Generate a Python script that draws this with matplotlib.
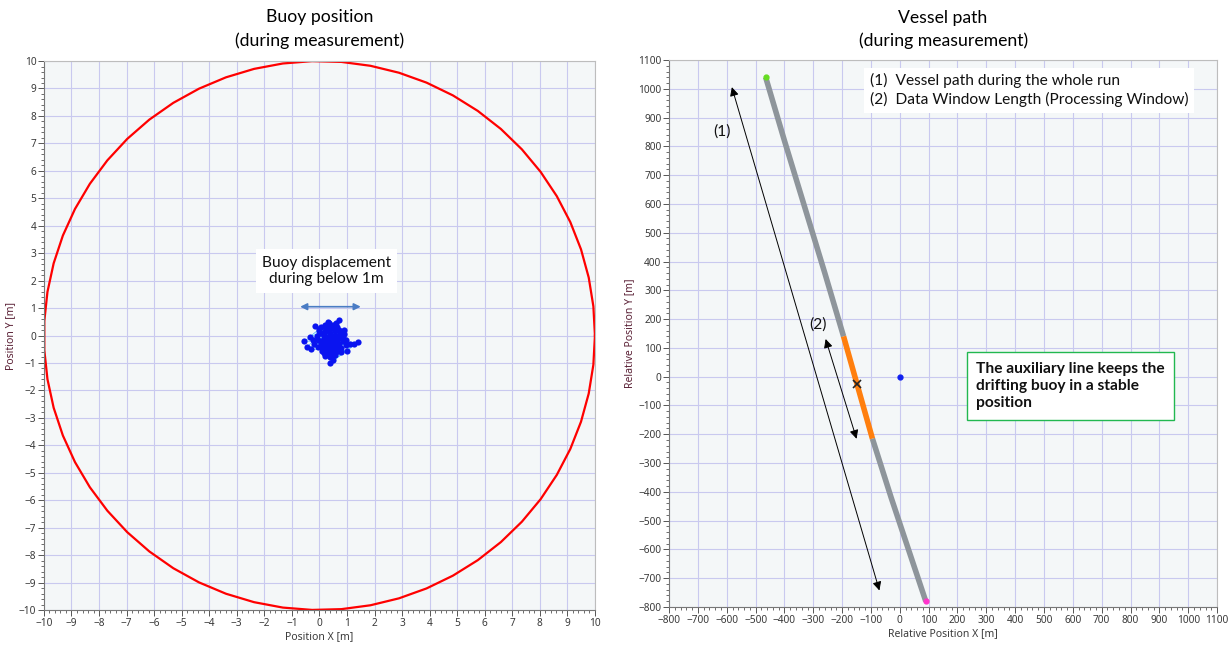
import numpy as np
import matplotlib
matplotlib.use('Agg')
import matplotlib.pyplot as plt
from matplotlib.ticker import MultipleLocator

# --- data ---
# buoy position cloud (m)
buoy_x = [0.30, 0.42, 0.18, 0.55, 0.25, 0.38, 0.10, 0.47, 0.62, 0.33,
          0.05, 0.28, 0.50, 0.15, 0.70, 0.40, 0.22, 0.58, 0.35, 0.12,
          0.45, 0.65, 0.27, 0.08, 0.52, 0.37, 0.20, 0.60, 0.43, 0.31,
          -0.05, 0.75, 0.48, 0.17, 0.55, 0.02, 0.68, 0.24, 0.39, 0.85,
          -0.20, 0.95, 0.30, -0.35, 1.10, 0.60, -0.45, 1.25, 0.50, 0.00,
          0.80, -0.15, 0.90, 0.40, 1.40, -0.55, 0.70, 0.20, 1.00, -0.30,
          0.35, 0.45, 0.25, 0.55, 0.15, 0.65, 0.32, 0.42, 0.28, 0.50,
          -0.10, 0.05, 0.72, 0.85, 0.60, -0.05, 0.10, 0.78, 0.20, 0.48,
          0.00, 0.88, 0.35, 0.62, 0.15, 0.70, -0.25, 0.95, 0.40, 0.25]
buoy_y = [-0.10, -0.25, 0.05, -0.15, -0.35, 0.10, -0.20, -0.45, 0.00, -0.05,
          -0.30, 0.20, -0.55, -0.10, -0.30, 0.25, -0.50, 0.15, -0.65, 0.05,
          0.30, -0.20, -0.25, -0.45, 0.00, -0.35, 0.15, -0.50, -0.15, 0.35,
          -0.15, 0.05, 0.40, -0.60, -0.70, 0.10, -0.40, 0.30, -0.80, -0.20,
          -0.30, -0.35, 0.50, -0.05, -0.30, 0.45, -0.40, -0.30, -0.90, 0.25,
          -0.60, 0.35, 0.20, -1.00, -0.25, -0.20, 0.55, -0.75, -0.55, -0.50,
          -0.20, -0.10, -0.05, -0.30, -0.25, -0.10, -0.40, 0.00, -0.15, -0.20,
          0.00, 0.30, 0.20, -0.05, -0.60, -0.40, -0.55, -0.45, 0.40, -0.70,
          0.15, 0.05, 0.45, 0.30, -0.65, -0.10, -0.15, -0.15, -0.60, -0.60]
radius = 10  # watch circle

# vessel path (m)
path_x = [-465, -400, -330, -260, -195]
path_y = [1040, 820, 590, 360, 140]
window_x = [-195, -150, -95]
window_y = [140, -20, -215]
path2_x = [-95, -30, 30, 90]
path2_y = [-215, -420, -600, -780]
target = (-148, -25)

GRID = '#c9c9ef'
BG = '#f4f7f8'
TXT = '#3a3a3a'
plt.rcParams['font.family'] = ['Noto Sans', 'DejaVu Sans']

fig = plt.figure(figsize=(12.31, 6.46), dpi=100)
ax1 = fig.add_axes([0.0357, 0.0557, 0.4476, 0.8498])
ax2 = fig.add_axes([0.5435, 0.0604, 0.4452, 0.8467])


def style(ax, major, xlabel, ylabel):
    ax.set_facecolor(BG)
    ax.xaxis.set_major_locator(MultipleLocator(major))
    ax.yaxis.set_major_locator(MultipleLocator(major))
    ax.xaxis.set_minor_locator(MultipleLocator(major / 5))
    ax.yaxis.set_minor_locator(MultipleLocator(major / 5))
    ax.grid(True, which='major', color=GRID, lw=0.8)
    ax.set_axisbelow(True)
    ax.tick_params(which='major', length=4, width=0.7, labelsize=7.3, colors='#555555', labelcolor=TXT, pad=1.5)
    ax.tick_params(which='minor', length=2, width=0.6, colors='#555555')
    for s in ax.spines.values():
        s.set_color('#bdbdbd')
    ax.spines['left'].set_color('#777777')
    ax.spines['bottom'].set_color('#777777')
    ax.set_xlabel(xlabel, fontsize=7.5, color=TXT, labelpad=2)
    ax.set_ylabel(ylabel, fontsize=7.5, color='#5a2035', labelpad=2)


# --- left: buoy position ---
style(ax1, 1, 'Position X [m]', 'Position Y [m]')
ax1.set_xlim(-10, 10)
ax1.set_ylim(-10, 10)
t = np.linspace(0, 2 * np.pi, 60)
ax1.plot(radius * np.cos(t), radius * np.sin(t), color='#ff0000', lw=1.6)
ax1.plot(buoy_x, buoy_y, color='#40b8ff', lw=0.5, zorder=3)
ax1.scatter(buoy_x, buoy_y, s=20, color='#0a14f0', zorder=4, linewidths=0)
ax1.annotate('', xy=(-0.8, 1.05), xytext=(1.6, 1.05),
             arrowprops=dict(arrowstyle='<|-|>', color='#4a7cc4', lw=1.2, mutation_scale=10))
ax1.text(0.25, 2.35, 'Buoy displacement\nduring below 1m', ha='center', va='center',
         fontsize=11.2, family='Lato', color='#111111', linespacing=1.25,
         bbox=dict(boxstyle='square,pad=0.4', fc='white', ec='none'))
ax1.set_title('Buoy position\n(during measurement)', fontsize=12.7, family='Lato', pad=11, linespacing=1.5)

# --- right: vessel path ---
style(ax2, 100, 'Relative Position X [m]', 'Relative Position Y [m]')
ax2.set_xlim(-800, 1100)
ax2.set_ylim(-800, 1100)
ax2.plot(path_x, path_y, color='#8e959b', lw=4, solid_capstyle='butt', zorder=3)
ax2.plot(path2_x, path2_y, color='#8e959b', lw=4, solid_capstyle='butt', zorder=3)
ax2.plot(window_x, window_y, color='#ff7f0e', lw=4, solid_capstyle='butt', zorder=4)
ax2.plot(path_x[0], path_y[0], 'o', color='#66dd22', ms=3.5, zorder=5)
ax2.plot(path2_x[-1], path2_y[-1], 'o', color='#ff33cc', ms=3.5, zorder=5)
ax2.plot(0, 0, 'o', color='#1020f0', ms=3.5, zorder=5)
ax2.plot(*target, 'x', color='#222222', ms=6, mew=1.2, zorder=6)
ax2.annotate('', xy=(-585, 1015), xytext=(-68, -752),
             arrowprops=dict(arrowstyle='<|-|>', color='black', lw=0.7, mutation_scale=13))
ax2.annotate('', xy=(-260, 140), xytext=(-147, -225),
             arrowprops=dict(arrowstyle='<|-|>', color='black', lw=0.7, mutation_scale=13))
ax2.text(-615, 850, '(1)', ha='center', va='center', fontsize=11.2, family='Lato', color='#111111')
ax2.text(-282, 180, '(2)', ha='center', va='center', fontsize=11.2, family='Lato', color='#111111')
ax2.text(-105, 995, '(1)  Vessel path during the whole run\n(2)  Data Window Length (Processing Window)',
         ha='left', va='center', fontsize=11.2, family='Lato', color='#111111', linespacing=1.3,
         bbox=dict(boxstyle='square,pad=0.35', fc='white', ec='none'))
ax2.text(265, 52, 'The auxiliary line keeps the\ndrifting buoy in a stable\nposition',
         ha='left', va='top', fontsize=11.2, family='Lato', weight='bold', color='#111111',
         linespacing=1.3,
         bbox=dict(boxstyle='square,pad=0.6', fc='white', ec='#22b850', lw=1))
ax2.set_title('Vessel path\n(during measurement)', fontsize=12.7, family='Lato', pad=10, linespacing=1.5)

fig.savefig('out.png', dpi=100)
